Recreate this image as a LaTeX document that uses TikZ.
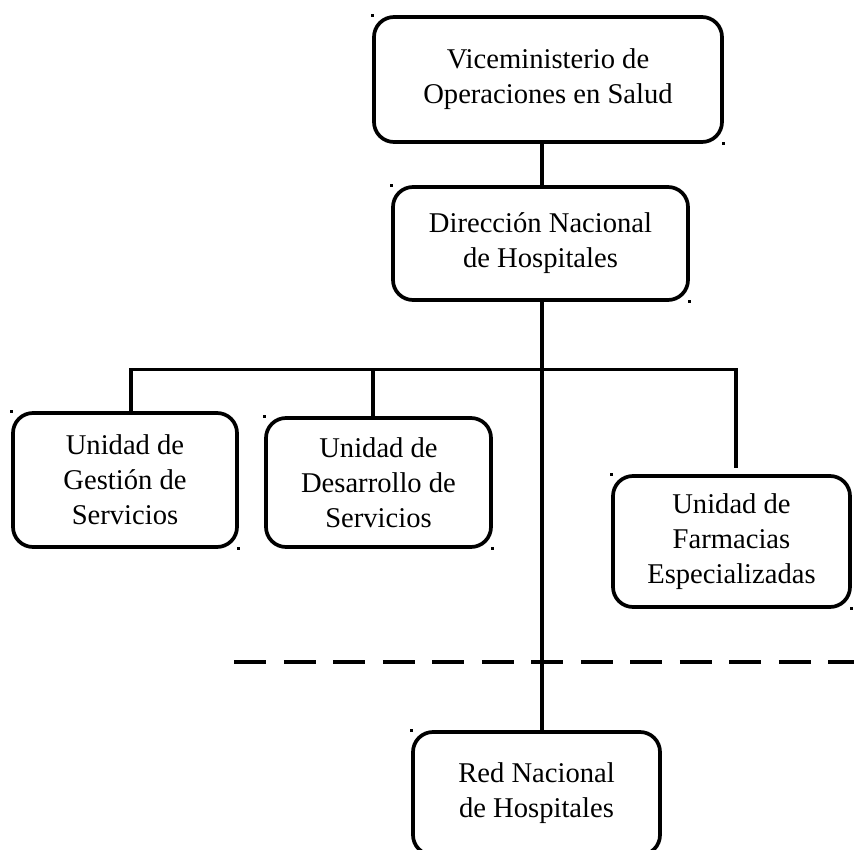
\documentclass[tikz,border=0pt]{standalone}
\usepackage{fontspec}
\setmainfont{Liberation Serif}
\usetikzlibrary{calc}
\begin{document}
\begin{tikzpicture}[x=1pt,y=-1pt,
  unit/.style={draw, line width=3.7pt, rounded corners=20pt, align=center,
    inner sep=0pt, font=\fontsize{28.6}{35}\selectfont},
  conn/.style={line width=3.7pt},
  divider/.style={line width=3.7pt, dash pattern=on 32pt off 17.5pt},
  handle/.style={fill=black}]
\useasboundingbox (0,0) rectangle (854,850);

\node[unit, minimum width=348pt, minimum height=125pt] (vice) at (548,79.5)
  {Viceministerio de\\Operaciones en Salud};
\node[unit, minimum width=295pt, minimum height=113pt] (dnh) at (540.5,243.5)
  {Dirección Nacional\\de Hospitales};
\node[unit, minimum width=224pt, minimum height=134pt] (ugs) at (125,480)
  {Unidad de\\Gestión de\\Servicios};
\node[unit, minimum width=225pt, minimum height=129pt] (uds) at (378.5,482.5)
  {Unidad de\\Desarrollo de\\Servicios};
\node[unit, minimum width=237pt, minimum height=131pt] (ufe) at (731.5,541.5)
  {Unidad de\\Farmacias\\Especializadas};
\node[unit, minimum width=247pt, minimum height=123pt] (rnh) at (536.5,793.5)
  {Red Nacional\\de Hospitales};

% junction coordinates
\coordinate (tx) at (542,0);
\coordinate (b1) at (130.7,369.5);
\coordinate (b2) at (373,369.5);
\coordinate (b4) at (735.7,369.5);

% connectors
\draw[conn] (vice.south -| tx) -- (dnh.north -| tx);
\draw[conn] (dnh.south -| tx) -- (rnh.north -| tx);
\draw[conn] (ugs.north -| b1) |- (b4) -- ($(ufe.north -| b4)+(0,-6)$);
\draw[conn] (b2) -- (uds.north -| b2);

% divider
\draw[divider] (234.3,662) -- (854,662);

% selection handles
\foreach \n in {vice,dnh,ugs,uds,ufe}{
  \fill[handle] ($(\n.north west)+(-1.5,-1.5)$) rectangle ++(3,3);
  \fill[handle] ($(\n.south east)+(-1.5,-1.5)$) rectangle ++(3,3);
}
\fill[handle] ($(rnh.north west)+(-1.5,-1.5)$) rectangle ++(3,3);
\end{tikzpicture}
\end{document}
